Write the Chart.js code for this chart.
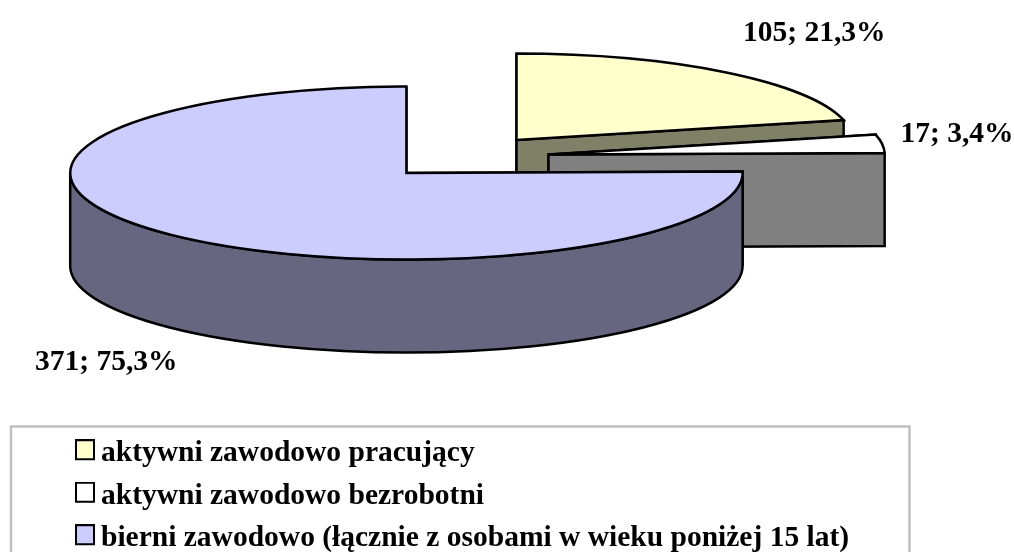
<!DOCTYPE html>
<html>
<head>
<meta charset="utf-8">
<style>html,body{margin:0;padding:0;background:#fff}canvas{display:block}</style>
<script src="https://cdn.jsdelivr.net/npm/chart.js@4"></script>
</head>
<body>
<canvas id="c" width="1014" height="552"></canvas>
<script>
const categories = ["aktywni zawodowo pracujący", "aktywni zawodowo bezrobotni", "bierni zawodowo (łącznie z osobami w wieku poniżej 15 lat)"];
const values = [105, 17, 371];
const percentLabels = ["21,3%", "3,4%", "75,3%"];
const topColors = ["#FFFFCC", "#FFFFFF", "#CCCCFF"];
const wallColors = ["#808066", "#808080", "#666680"];

// presentation constants
const RX = 336.2, RY = 86.5, DEPTH = 93;
const sliceCentres = [[516.5, 140], [548.5, 154.5], [406.4, 173]];
const labelSpots = [[743, 41], [900.5, 142], [35, 370]];
const FONT = "'Liberation Serif', 'Times New Roman', serif";
const LEGEND_SIZE = 29.5, LABEL_SIZE = 29.5;

function marker(color) {
  const m = document.createElement('canvas');
  m.width = 20; m.height = 29;
  const g = m.getContext('2d');
  g.fillStyle = color; g.fillRect(1, 1, 18, 19);
  g.strokeStyle = '#000'; g.lineWidth = 2; g.strokeRect(1, 1, 18, 19);
  return m;
}

const pie3d = {
  id: 'pie3d',
  beforeDraw(chart) {
    const c = chart.ctx;
    c.save();
    c.strokeStyle = '#C0C0C0'; c.lineWidth = 2.5;
    c.beginPath();
    c.moveTo(11, 560); c.lineTo(11, 426.5); c.lineTo(909.5, 426.5); c.lineTo(909.5, 560);
    c.stroke();
    c.restore();
  },
  afterLayout(chart) {
    const l = chart.legend;
    l.left = 70.75; l.right = 1000; l.top = 426; l.bottom = 800;
  },
  beforeDatasetsDraw(chart) {
    const c = chart.ctx;
    const arcs = chart.getDatasetMeta(0).data;
    c.lineWidth = 2.5; c.strokeStyle = '#000'; c.lineJoin = 'miter';
    arcs.forEach((el, i) => {
      const p = el.getProps(['x', 'y', 'startAngle', 'endAngle', 'outerRadius']);
      const [cx, cy] = sliceCentres[i];
      const pt = a => [cx + RX * Math.cos(a), cy + RY * Math.sin(a)];
      const wall = a => {
        const q = pt(a);
        c.beginPath();
        c.moveTo(cx, cy); c.lineTo(q[0], q[1]); c.lineTo(q[0], q[1] + DEPTH); c.lineTo(cx, cy + DEPTH);
        c.closePath(); c.fillStyle = wallColors[i]; c.fill(); c.stroke();
      };
      wall(p.startAngle);
      wall(p.endAngle);
      const a0 = Math.max(p.startAngle, 0), a1 = Math.min(p.endAngle, Math.PI);
      if (a1 > a0) {
        c.beginPath();
        c.ellipse(cx, cy, RX, RY, 0, a0, a1);
        c.ellipse(cx, cy + DEPTH, RX, RY, 0, a1, a0, true);
        c.closePath(); c.fillStyle = wallColors[i]; c.fill(); c.stroke();
      }
      c.save();
      c.translate(cx, cy);
      c.scale(RX / p.outerRadius, RY / p.outerRadius);
      c.translate(-p.x, -p.y);
      el.draw(c);
      c.restore();
      c.beginPath();
      c.moveTo(cx, cy);
      c.ellipse(cx, cy, RX, RY, 0, p.startAngle, p.endAngle);
      c.closePath(); c.stroke();
    });
    return false;
  },
  afterDraw(chart) {
    const c = chart.ctx;
    c.save();
    c.fillStyle = '#000';
    c.font = `bold ${LABEL_SIZE}px ${FONT}`;
    c.textAlign = 'left'; c.textBaseline = 'alphabetic';
    values.forEach((v, i) => c.fillText(`${v}; ${percentLabels[i]}`, labelSpots[i][0], labelSpots[i][1]));
    c.restore();
  }
};

new Chart(document.getElementById('c'), {
  type: 'pie',
  data: {
    labels: categories,
    datasets: [{ data: values, backgroundColor: topColors, borderWidth: 0 }]
  },
  options: {
    responsive: false,
    animation: false,
    events: [],
    plugins: {
      tooltip: { enabled: false },
      legend: {
        position: 'chartArea',
        align: 'start',
        labels: {
          color: '#000',
          font: { family: FONT, size: LEGEND_SIZE, weight: 'bold' },
          usePointStyle: true,
          pointStyleWidth: 2.5,
          boxHeight: LEGEND_SIZE,
          padding: 13,
          generateLabels: () => categories.map((t, i) => ({
            text: t, pointStyle: marker(topColors[i]), fillStyle: topColors[i],
            strokeStyle: '#000', lineWidth: 0, index: i, fontColor: '#000'
          }))
        }
      }
    }
  },
  plugins: [pie3d]
});
</script>
</body>
</html>
